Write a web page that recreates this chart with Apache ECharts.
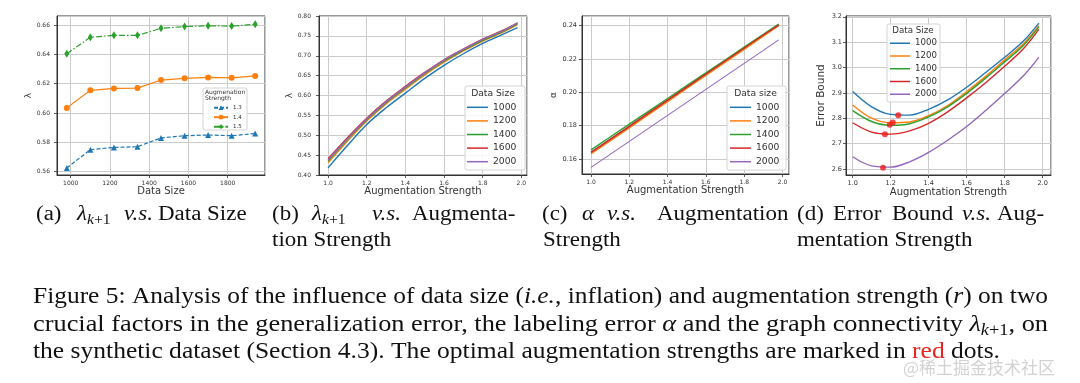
<!DOCTYPE html>
<html><head><meta charset="utf-8">
<script src="https://cdn.jsdelivr.net/npm/echarts@6/dist/echarts.min.js"></script>
<style>html,body{margin:0;padding:0;background:#fff}#c{width:1080px;height:383px}</style>
</head><body><div id="c"></div>
<script>
// ---------------- data ----------------
// (a) lambda_{k+1} vs data size, one series per augmentation strength
const DATA_SIZE = [980, 1100, 1220, 1340, 1460, 1580, 1700, 1820, 1940];
const LAMBDA_R13 = [0.5625, 0.5750, 0.5765, 0.5770, 0.5830, 0.5845, 0.5850, 0.5845, 0.5860];
const LAMBDA_R14 = [0.6035, 0.6155, 0.6168, 0.6170, 0.6225, 0.6237, 0.6243, 0.6240, 0.6253];
const LAMBDA_R15 = [0.6405, 0.6517, 0.6530, 0.6530, 0.6578, 0.6590, 0.6595, 0.6593, 0.6605];
const STRENGTH_NAMES = ['1.3', '1.4', '1.5'];

// (b)-(d) curves vs augmentation strength, one series per data size
const AUG = [1.0, 1.1, 1.2, 1.3, 1.4, 1.5, 1.6, 1.7, 1.8, 1.9, 1.98];
const SIZE_NAMES = ['1000', '1200', '1400', '1600', '2000'];

const LAMBDA_1000 = [0.418, 0.474, 0.527, 0.569, 0.606, 0.643, 0.676, 0.705, 0.731, 0.753, 0.771];
const LAMBDA_1200 = [0.431, 0.485, 0.536, 0.579, 0.616, 0.652, 0.684, 0.712, 0.737, 0.758, 0.778];
const LAMBDA_1400 = [0.435, 0.489, 0.539, 0.582, 0.619, 0.655, 0.687, 0.714, 0.739, 0.760, 0.780];
const LAMBDA_1600 = [0.441, 0.494, 0.543, 0.586, 0.623, 0.658, 0.690, 0.717, 0.742, 0.763, 0.783];
const LAMBDA_2000 = [0.438, 0.491, 0.541, 0.584, 0.621, 0.657, 0.689, 0.716, 0.741, 0.762, 0.782];

const ALPHA_1000 = [0.1640, 0.1718, 0.1796, 0.1874, 0.1952, 0.2030, 0.2108, 0.2186, 0.2264, 0.2342, 0.2405];
const ALPHA_1200 = [0.1630, 0.1709, 0.1787, 0.1866, 0.1944, 0.2023, 0.2101, 0.2180, 0.2258, 0.2337, 0.2400];
const ALPHA_1400 = [0.1655, 0.1732, 0.1809, 0.1886, 0.1963, 0.2040, 0.2117, 0.2194, 0.2271, 0.2348, 0.2410];
const ALPHA_1600 = [0.1640, 0.1718, 0.1796, 0.1875, 0.1953, 0.2031, 0.2110, 0.2188, 0.2266, 0.2344, 0.2403];
const ALPHA_2000 = [0.1550, 0.1628, 0.1706, 0.1784, 0.1862, 0.1940, 0.2018, 0.2096, 0.2174, 0.2252, 0.2315];

const BOUND_1000 = [2.905, 2.845, 2.815, 2.812, 2.835, 2.872, 2.922, 2.980, 3.040, 3.105, 3.175];
const BOUND_1200 = [2.852, 2.800, 2.782, 2.785, 2.810, 2.850, 2.905, 2.965, 3.030, 3.095, 3.165];
const BOUND_1400 = [2.830, 2.787, 2.772, 2.778, 2.805, 2.845, 2.898, 2.958, 3.022, 3.088, 3.160];
const BOUND_1600 = [2.782, 2.745, 2.737, 2.750, 2.780, 2.825, 2.880, 2.940, 3.005, 3.075, 3.150];
const BOUND_2000 = [2.648, 2.612, 2.607, 2.628, 2.665, 2.713, 2.767, 2.830, 2.897, 2.968, 3.040];

// optimal augmentation strengths (red dots)
const OPT_R = [1.240, 1.211, 1.195, 1.170, 1.160];
const OPT_BOUND = [2.812, 2.783, 2.774, 2.737, 2.605];

// ---------------- styling ----------------
const C = ['#1f77b4', '#ff7f0e', '#2ca02c', '#d62728', '#9467bd'];
const SANS = 'DejaVu Sans';
const SERIF = 'Liberation Serif';
const pairs = (xs, ys) => xs.map((x, i) => [x, ys[i]]);

const grids = [
  {left: 57, top: 16, width: 208, height: 159},
  {left: 319, top: 16, width: 208, height: 159},
  {left: 582, top: 16, width: 207, height: 158},
  {left: 846, top: 16, width: 205, height: 159}
].map(g => Object.assign({show: true, borderColor: '#333', borderWidth: 1, backgroundColor: '#fff'}, g));

function axis(gi, o) {
  return {
    type: 'value', gridIndex: gi, min: o.min, max: o.max,
    minInterval: o.step, maxInterval: o.step,
    axisLine: {show: true, onZero: false, lineStyle: {color: '#333', width: 1}},
    axisTick: {show: true, length: 3, lineStyle: {color: '#333', width: 0.8}},
    axisLabel: {show: true, fontSize: o.fs, color: '#333', margin: o.margin, fontFamily: SANS,
      showMinLabel: o.showEnds ? null : false, showMaxLabel: o.showEnds ? null : false,
      formatter: v => v.toFixed(o.digits)},
    splitLine: {show: true, lineStyle: {color: '#cbcbcb', width: 1}},
    name: o.name, nameLocation: 'middle', nameGap: o.gap, nameRotate: o.rot || 0,
    nameTextStyle: {fontSize: o.nfs, color: '#333', fontFamily: SANS}
  };
}

const xAxes = [
  axis(0, {min: 930, max: 1990, step: 200, digits: 0, fs: 6, margin: 5, name: 'Data Size', gap: 11, nfs: 10}),
  axis(1, {min: 0.953, max: 2.029, step: 0.2, digits: 1, fs: 6, margin: 5, name: 'Augmentation Strength', gap: 11, nfs: 10}),
  axis(2, {min: 0.953, max: 2.034, step: 0.2, digits: 1, fs: 6, margin: 5, name: 'Augmentation Strength', gap: 11, nfs: 10}),
  axis(3, {min: 0.965, max: 2.044, step: 0.2, digits: 1, fs: 6.5, margin: 5, name: 'Augmentation Strength', gap: 11, nfs: 10})
];
const yAxes = [
  axis(0, {min: 0.5577, max: 0.6662, step: 0.02, digits: 2, fs: 6, margin: 7, name: 'λ', gap: 22, nfs: 9, rot: 90}),
  axis(1, {min: 0.4, max: 0.8, step: 0.05, digits: 2, fs: 6, margin: 8, name: 'λ', gap: 24, nfs: 9, rot: 90, showEnds: true}),
  axis(2, {min: 0.151, max: 0.2458, step: 0.02, digits: 2, fs: 6.5, margin: 5, name: 'α', gap: 24, nfs: 9, rot: 90}),
  axis(3, {min: 2.576, max: 3.203, step: 0.1, digits: 1, fs: 6.5, margin: 4, name: 'Error Bound', gap: 19, nfs: 10.5, rot: 90})
];

const series = [];
// (a)
const aSeries = [
  {name: '1.3', ys: LAMBDA_R13, symbol: 'triangle', size: 6, dash: [4, 2]},
  {name: '1.4', ys: LAMBDA_R14, symbol: 'circle', size: 6, dash: 'solid'},
  {name: '1.5', ys: LAMBDA_R15, symbol: 'diamond', size: [5, 8], dash: [6, 2, 1.5, 2]}
];
aSeries.forEach((s, i) => series.push({
  type: 'line', name: s.name, xAxisIndex: 0, yAxisIndex: 0, data: pairs(DATA_SIZE, s.ys),
  symbol: s.symbol, symbolSize: s.size, showSymbol: true,
  lineStyle: {color: C[i], width: 1.2, type: s.dash}, itemStyle: {color: C[i]}
}));
// (b)(c)(d)
const groups = [
  [LAMBDA_1000, LAMBDA_1200, LAMBDA_1400, LAMBDA_1600, LAMBDA_2000],
  [ALPHA_1000, ALPHA_1200, ALPHA_1400, ALPHA_1600, ALPHA_2000],
  [BOUND_1000, BOUND_1200, BOUND_1400, BOUND_1600, BOUND_2000]
];
groups.forEach((g, gi) => g.forEach((ys, i) => series.push({
  type: 'line', name: SIZE_NAMES[i], xAxisIndex: gi + 1, yAxisIndex: gi + 1,
  data: pairs(AUG, ys), symbol: 'none', smooth: gi === 1 ? false : 0.35,
  lineStyle: {color: C[i], width: gi === 1 && i === 4 ? 1.1 : 1.4}, itemStyle: {color: C[i]}
})));
series.push({
  type: 'scatter', name: 'optimal', xAxisIndex: 3, yAxisIndex: 3, data: pairs(OPT_R, OPT_BOUND),
  symbolSize: 6, itemStyle: {color: '#ee1c1c'}, z: 6
});

function legend(o) {
  return Object.assign({
    orient: 'vertical', padding: 0, selectedMode: false,
    textStyle: {fontFamily: SANS, color: '#333', fontSize: o.fs, lineHeight: o.lh}
  }, o.cfg);
}
const legends = [
  legend({fs: 5.5, lh: 7, cfg: {data: STRENGTH_NAMES, left: 213, top: 104.2, itemWidth: 14, itemHeight: 6, itemGap: 2.5, itemTextGap: 3}}),
  legend({fs: 9.2, lh: 10, cfg: {data: SIZE_NAMES, left: 467, top: 102.3, icon: 'rect', itemWidth: 21, itemHeight: 1.5, itemGap: 3.6, itemTextGap: 6}}),
  legend({fs: 9.2, lh: 10, cfg: {data: SIZE_NAMES, left: 730, top: 102.3, icon: 'rect', itemWidth: 21, itemHeight: 1.5, itemGap: 3.6, itemTextGap: 6}}),
  legend({fs: 8.6, lh: 9.5, cfg: {data: SIZE_NAMES, left: 890, top: 38.5, icon: 'rect', itemWidth: 20, itemHeight: 1.5, itemGap: 3.25, itemTextGap: 5}})
];

// ---------------- graphic text / boxes ----------------
const els = [];
function box(x, y, w, h) {
  els.push({type: 'rect', z: 3, shape: {x, y, width: w, height: h, r: 2},
    style: {fill: 'rgba(255,255,255,0.85)', stroke: '#d4d4d4', lineWidth: 1}});
}
function label(x, y, text, fs, align) {
  els.push({type: 'text', z: 5, x, y, style: {text, fontFamily: SANS, fontSize: fs, fill: '#333', align: align || 'center', verticalAlign: 'middle'}});
}
box(203, 88, 44, 42); label(205, 92, 'Augmenation', 6, 'left'); label(205, 98.7, 'Strength', 6, 'left');
box(465, 86, 60, 84); label(493, 94, 'Data Size', 9.2);
box(727, 86, 59, 84); label(755.5, 94, 'Data size', 9.2);
box(887, 24, 53, 78); label(913, 30.7, 'Data Size', 8.7);

const INK = '#111';
function makeRich(fs, sfs, lh) {
  return {
    n: {fontFamily: SERIF, fontSize: fs, lineHeight: lh, fill: INK, verticalAlign: 'middle'},
    i: {fontFamily: SERIF, fontSize: fs, fontStyle: 'italic', lineHeight: lh, fill: INK, verticalAlign: 'middle'},
    r: {fontFamily: SERIF, fontSize: fs, lineHeight: lh, fill: '#e8251f', verticalAlign: 'middle'},
    si: {fontFamily: SERIF, fontSize: sfs, fontStyle: 'italic', lineHeight: sfs, fill: INK, verticalAlign: 'bottom'},
    sn: {fontFamily: SERIF, fontSize: sfs, lineHeight: sfs, fill: INK, verticalAlign: 'bottom'}
  };
}
const RICH_FIG = makeRich(23, 16, 28);
const RICH_SUB = makeRich(20.5, 14, 25);
const mctx = document.createElement('canvas').getContext('2d');
function tokWidth(tokens, rich) {
  let w = 0;
  tokens.forEach(([s, t]) => {
    const st = rich[s];
    mctx.font = (st.fontStyle ? st.fontStyle + ' ' : '') + st.fontSize + 'px "' + SERIF + '"';
    w += mctx.measureText(t).width;
  });
  return w;
}
function cap(rich, x, y, tokens, opt) {
  opt = opt || {};
  const sx = opt.width ? opt.width / tokWidth(tokens, rich) : (opt.sx || 1);
  els.push({type: 'text', z: 5, x, y, scaleX: sx, style: {
    text: tokens.map(([s, t]) => '{' + s + '|' + t + '}').join(''), rich,
    fontFamily: SERIF, fontSize: rich.n.fontSize, align: 'left', verticalAlign: 'middle'}});
}
const SX = 1.12;
const sub = (x, y, tokens) => cap(RICH_SUB, x, y, tokens, {sx: SX});
const LAM = [['i', 'λ'], ['si', 'k'], ['sn', '+1']];
const R1 = 215, R2 = 241;
// sub-captions
sub(36, R1, [['n', '(a)']]); sub(77, R1, LAM); sub(124, R1, [['i', 'v.s.']]); sub(158, R1, [['n', 'Data Size']]);
sub(272, R1, [['n', '(b)']]); sub(312, R1, LAM); sub(372, R1, [['i', 'v.s.']]); sub(412, R1, [['n', 'Augmenta-']]);
sub(272, R2, [['n', 'tion Strength']]);
sub(542, R1, [['n', '(c)']]); sub(582, R1, [['i', 'α']]); sub(607, R1, [['i', 'v.s.']]); sub(657, R1, [['n', 'Augmentation']]);
sub(543, R2, [['n', 'Strength']]);
sub(797, R1, [['n', '(d)']]); sub(833, R1, [['n', 'Error']]); sub(892, R1, [['n', 'Bound']]); sub(962, R1, [['i', 'v.s.']]); sub(997, R1, [['n', 'Aug-']]);
sub(797, R2, [['n', 'mentation Strength']]);
// figure caption (first two lines justified to the text width)
cap(RICH_FIG, 33, 297, [['n', 'Figure 5: Analysis of the influence of data size ('], ['i', 'i.e.'], ['n', ', inflation) and augmentation strength ('], ['i', 'r'], ['n', ') on two']], {width: 1015});
cap(RICH_FIG, 33, 325, [['n', 'crucial factors in the generalization error, the labeling error '], ['i', 'α'], ['n', ' and the graph connectivity '], ['i', 'λ'], ['si', 'k'], ['sn', '+1'], ['n', ', on']], {width: 1015});
cap(RICH_FIG, 33, 352, [['n', 'the synthetic dataset (Section 4.3). The optimal augmentation strengths are marked in '], ['r', 'red'], ['n', ' dots.']], {width: 967});
// watermark
els.push({type: 'text', z: 6, x: 903, y: 368, style: {text: '@稀土掘金技术社区', fontFamily: 'Noto Sans CJK SC', fontSize: 17,
  fill: 'rgba(205,205,205,0.9)', align: 'left', verticalAlign: 'middle'}});

const chart = echarts.init(document.getElementById('c'), null, {renderer: 'canvas'});
chart.setOption({
  animation: false, backgroundColor: '#fff',
  textStyle: {fontFamily: SANS},
  grid: grids, xAxis: xAxes, yAxis: yAxes, series, legend: legends,
  graphic: {elements: els}
});
</script></body></html>
